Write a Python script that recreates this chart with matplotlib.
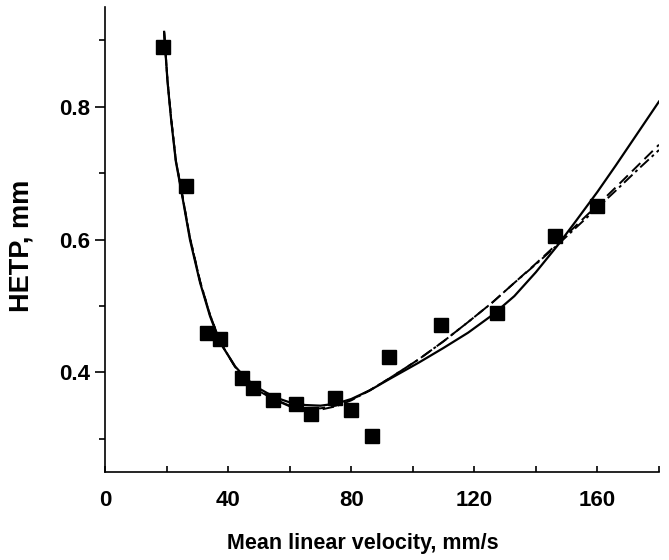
import matplotlib
matplotlib.use("Agg")
from matplotlib import pyplot as plt
from matplotlib.ticker import MultipleLocator

plt.rcParams['font.family'] = ['Liberation Sans', 'DejaVu Sans']
plt.rcParams['font.weight'] = 'bold'

# measured points
u_data = [18.9, 26.3, 33.2, 37.4, 44.6, 48.1, 54.6, 62.1, 67.0, 74.8, 80.0,
          86.8, 92.4, 109.3, 127.5, 146.3, 160.0]
h_data = [0.890, 0.681, 0.459, 0.450, 0.392, 0.376, 0.359, 0.353, 0.337, 0.361,
          0.343, 0.304, 0.423, 0.472, 0.489, 0.605, 0.650]

# fitted curves
u_fit = [19.2, 20.3, 21.5, 23.0, 25.0, 27.6, 30.9, 34.1, 37.4, 42.3, 46, 50, 55,
         60, 65, 70, 75, 80, 86, 92, 97, 102, 110, 118, 126, 133, 140, 147, 153,
         160, 166, 173, 180]
h_solid = [0.913, 0.838, 0.780, 0.718, 0.668, 0.600, 0.535, 0.485, 0.445, 0.409,
           0.390, 0.376, 0.363, 0.355, 0.351, 0.350, 0.353, 0.360, 0.373, 0.389,
           0.402, 0.415, 0.437, 0.460, 0.487, 0.515, 0.551, 0.591, 0.628, 0.672,
           0.712, 0.760, 0.808]
h_dash = [0.913, 0.840, 0.782, 0.720, 0.670, 0.603, 0.537, 0.487, 0.446, 0.408,
          0.388, 0.373, 0.360, 0.350, 0.346, 0.346, 0.350, 0.359, 0.373, 0.390,
          0.405, 0.420, 0.447, 0.476, 0.506, 0.535, 0.564, 0.594, 0.621, 0.652,
          0.679, 0.711, 0.743]
h_dashdot = [0.913, 0.840, 0.782, 0.720, 0.670, 0.603, 0.537, 0.487, 0.446, 0.408,
             0.388, 0.372, 0.359, 0.349, 0.344, 0.344, 0.349, 0.358, 0.373, 0.390,
             0.405, 0.420, 0.447, 0.476, 0.506, 0.535, 0.563, 0.592, 0.618, 0.648,
             0.674, 0.705, 0.735]

fig = plt.figure(figsize=(6.69, 5.60), dpi=100)
ax = fig.add_axes([0.157, 0.157, 0.828, 0.830])

ax.plot(u_fit, h_solid, color='black', lw=1.6, ls='-')
ax.plot(u_fit, h_dash, color='black', lw=1.4, ls=(0, (6, 3)))
ax.plot(u_fit, h_dashdot, color='black', lw=1.4, ls=(0, (6, 2, 1.5, 2)))
ax.plot(u_data, h_data, 's', color='black', markersize=9.5, ls='none')

ax.set_xlim(0, 180)
ax.set_ylim(0.25, 0.95)
ax.xaxis.set_major_locator(MultipleLocator(40))
ax.xaxis.set_minor_locator(MultipleLocator(20))
ax.yaxis.set_major_locator(MultipleLocator(0.2))
ax.yaxis.set_minor_locator(MultipleLocator(0.1))

for side in ['top', 'right']:
    ax.spines[side].set_visible(False)
for side in ['left', 'bottom']:
    ax.spines[side].set_linewidth(1.2)

ax.tick_params(axis='x', which='both', direction='in', length=4, width=1.2,
               labelsize=16, pad=13)
ax.tick_params(axis='y', which='major', direction='out', length=7, width=1.2,
               labelsize=16, pad=4)
ax.tick_params(axis='y', which='minor', direction='out', length=4.5, width=1.2)

ax.set_xlabel('Mean linear velocity, mm/s', fontsize=15.5, fontweight='bold')
ax.xaxis.set_label_coords(0.466, -0.13)
ax.set_ylabel('HETP, mm', fontsize=19.5, fontweight='bold')
ax.yaxis.set_label_coords(-0.128, 0.486)

fig.savefig('out.png', dpi=100)
